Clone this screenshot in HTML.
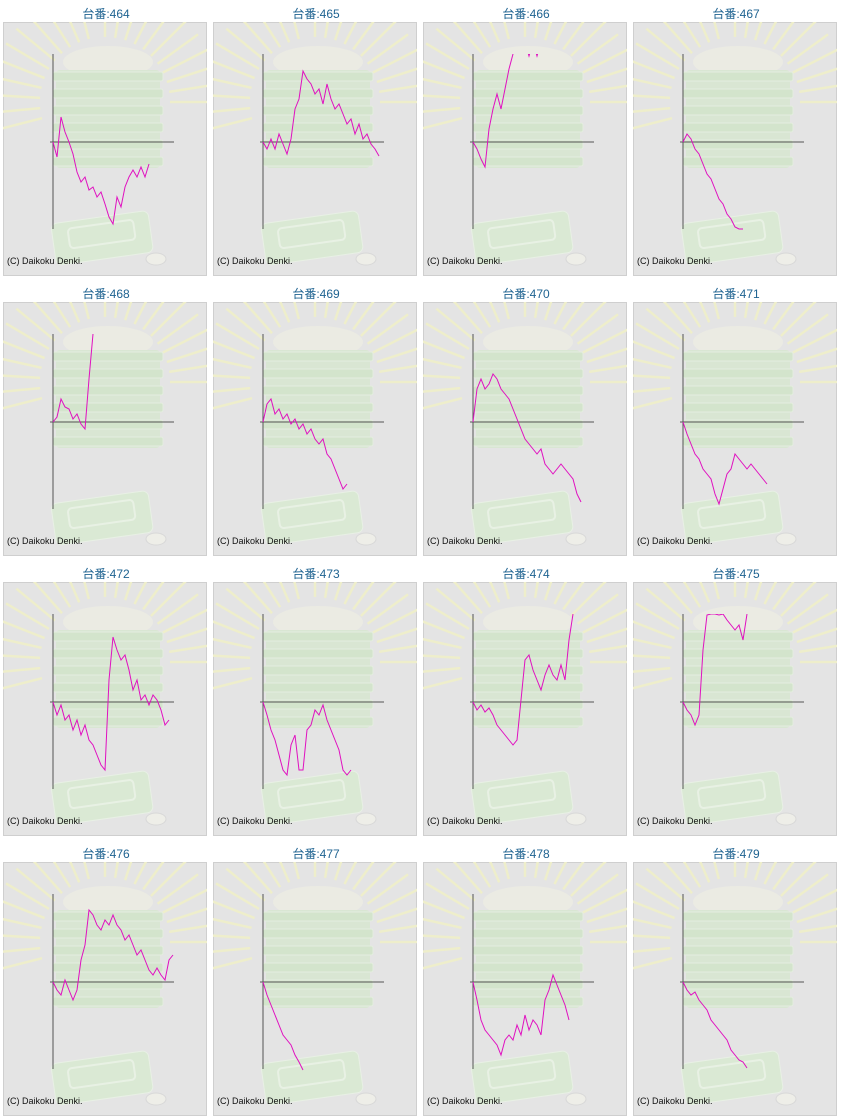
<!DOCTYPE html>
<html><head><meta charset="utf-8">
<style>
body{margin:0;background:#fff;width:841px;height:1120px;overflow:hidden;position:relative;font-family:"Liberation Sans","Noto Sans CJK JP",sans-serif;}
.title{position:absolute;width:204px;text-align:center;font-size:12px;color:#1f6391;}
svg.p{position:absolute;}
</style></head><body>
<div id="root"></div>
<script>
const machineIds=[464,465,466,467,468,469,470,471,472,473,474,475,476,477,478,479];
const s464=[0,-15,25,10,0,-12,-30,-40,-35,-48,-45,-55,-50,-62,-75,-82,-55,-65,-45,-35,-28,-35,-25,-35,-22];
const s465=[0,-7,3,-7,8,-2,-12,3,33,43,71,63,58,48,53,38,58,43,33,38,28,18,23,8,18,3,8,-2,-7,-14];
const s466=[0,-7,-17,-25,13,33,48,33,53,73,88,100,100,100,86,100,86,100];
const s467=[0,8,3,-7,-12,-22,-32,-37,-47,-57,-62,-72,-77,-85,-87,-87];
const s468=[0,5,23,15,13,3,8,-2,-7,43,88];
const s469=[0,18,23,8,13,3,8,-2,3,-7,-2,-12,-7,-17,-22,-17,-32,-37,-47,-57,-67,-62];
const s470=[0,33,43,33,38,48,43,33,28,23,13,3,-7,-17,-22,-27,-32,-27,-42,-47,-52,-47,-42,-47,-52,-57,-72,-80];
const s471=[0,-12,-22,-32,-37,-47,-52,-57,-72,-82,-67,-52,-47,-32,-37,-42,-47,-42,-47,-52,-57,-62];
const s472=[0,-13,-3,-18,-13,-28,-18,-33,-23,-38,-43,-53,-63,-68,22,65,52,42,47,32,12,22,2,7,-3,7,2,-8,-23,-18];
const s473=[0,-13,-28,-38,-53,-68,-73,-43,-33,-68,-68,-28,-23,-8,-13,-3,-18,-28,-38,-48,-68,-73,-68];
const s474=[0,-8,-3,-10,-6,-13,-23,-28,-33,-38,-43,-38,2,42,47,32,22,12,27,37,27,22,37,22,62,88];
const s475=[0,-8,-13,-23,-13,52,87,88,88,87,88,82,77,72,77,62,88];
const s476=[0,-8,-13,2,-8,-18,-8,22,37,72,67,57,52,62,57,67,57,52,42,47,37,27,32,22,12,7,14,7,2,22,27];
const s477=[0,-13,-23,-33,-43,-53,-58,-63,-73,-80,-88];
const s478=[0,-18,-38,-48,-53,-58,-63,-73,-58,-53,-58,-43,-53,-33,-48,-38,-43,-53,-18,-8,7,-3,-13,-23,-38];
const s479=[0,-8,-13,-10,-18,-23,-28,-38,-43,-48,-53,-58,-68,-73,-78,-80,-86];
const allSeries=[s464,s465,s466,s467,s468,s469,s470,s471,s472,s473,s474,s475,s476,s477,s478,s479];

const NS='http://www.w3.org/2000/svg';
const ox=50, oy=120, step=4;
function xs(i){return ox+i*step;}
function ys(v){return oy-v;}
const root=document.getElementById('root');
function deco(){
  let g='';
  const cx=102,cy=80;
  for(let k=0;k<22;k++){
    const ang=(k<11)?Math.PI*(1.08-k*0.05):Math.PI*(0.5-(k-11)*0.05);
    const r1=65,r2=115;
    g+=`<line x1="${cx+r1*Math.cos(ang)}" y1="${cy-r1*Math.sin(ang)}" x2="${cx+r2*Math.cos(ang)}" y2="${cy-r2*Math.sin(ang)}" stroke="#eeeecb" stroke-width="2.5"/>`;
  }
  g+=`<ellipse cx="105" cy="40" rx="45" ry="16" fill="#ebebe3"/>`;
  g+=`<rect x="53" y="48" width="104" height="98" rx="4" fill="#d9e6d3"/>`;
  for(let k=0;k<6;k++)g+=`<rect x="50" y="${50+k*17}" width="110" height="9" rx="2" fill="#d3e4cc" stroke="#e4ede0"/>`;
  g+=`<rect x="50" y="195" width="98" height="42" rx="6" fill="#dae9d4" stroke="#e8f0e5" transform="rotate(-8 99 215)"/>`;
  g+=`<rect x="66" y="202" width="66" height="20" rx="4" fill="none" stroke="#e8f1e4" stroke-width="2" transform="rotate(-8 99 215)"/>`;
  g+=`<ellipse cx="153" cy="237" rx="10" ry="6" fill="#eeeee8" stroke="#d8d8d8"/>`;
  return g;
}
machineIds.forEach((id,n)=>{
  const c=n%4,r=Math.floor(n/4);
  const px=4+c*210, py=23+r*280;
  const t=document.createElement('div');
  t.className='title';
  
  
  t.style.left=(px)+'px';t.style.top=(py-18)+'px';
  t.textContent='台番:'+id;
  root.appendChild(t);
  const svg=document.createElementNS(NS,'svg');
  svg.setAttribute('class','p');
  
  
  svg.setAttribute('width','204');svg.setAttribute('height','254');
  svg.style.left=(px-1)+'px';svg.style.top=(py-1)+'px';
  const pts=allSeries[n].map((v,i)=>xs(i)+','+ys(v)).join(' ');
  svg.innerHTML=`<rect x="0.5" y="0.5" width="203" height="253" fill="#e4e4e4" stroke="#cfcfcf"/>`+deco()+
  `<defs><clipPath id="cp${id}"><rect x="0" y="32" width="204" height="222"/></clipPath></defs>`+
  `<line x1="${ox}" y1="32" x2="${ox}" y2="207" stroke="#555" stroke-width="1"/>`+
  `<line x1="${ox-3}" y1="${oy}" x2="171" y2="${oy}" stroke="#555" stroke-width="1"/>`+
  `<polyline clip-path="url(#cp${id})" points="${pts}" fill="none" stroke="#e010c0" stroke-width="1"/>`+
  `<text x="4" y="242" font-size="9" fill="#111" font-family="Liberation Sans, sans-serif">(C) Daikoku Denki.</text>`;
  root.appendChild(svg);
});
</script>
</body></html>
